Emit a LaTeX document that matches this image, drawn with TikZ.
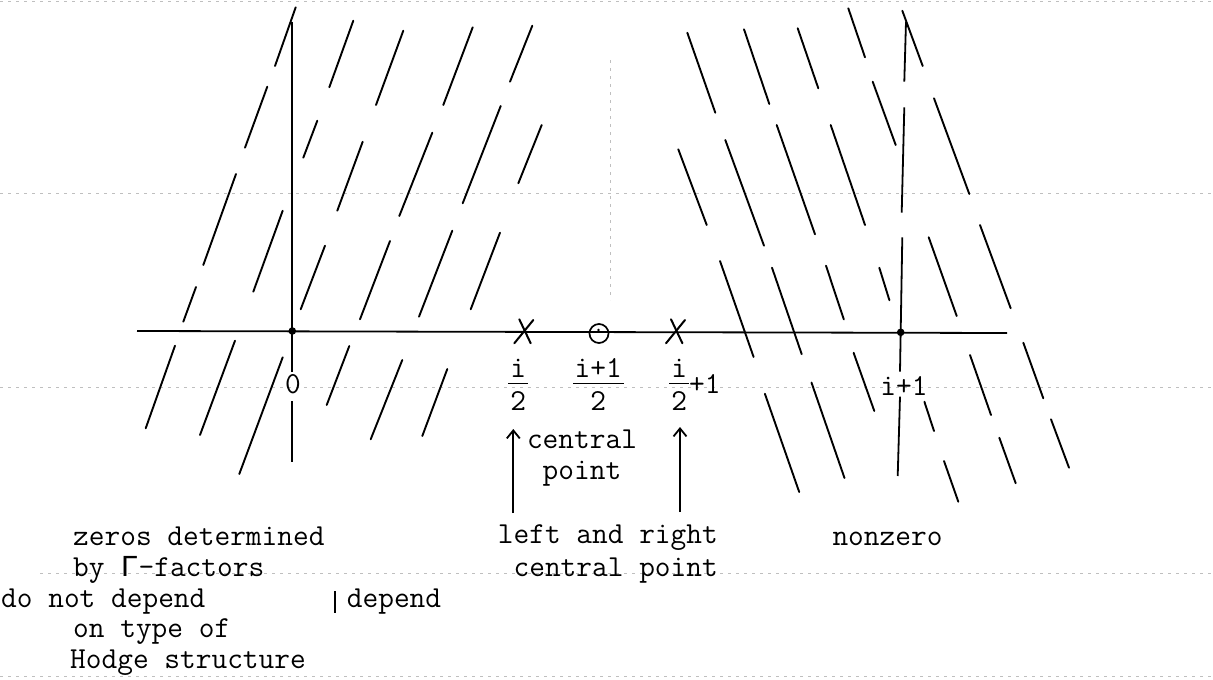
\documentclass[tikz,border=0pt]{standalone}
\usepackage{fontspec}
\newfontfamily\grk{Liberation Mono}
\usetikzlibrary{arrows.meta}
\begin{document}
\begin{tikzpicture}[x=1pt,y=-1pt,
  hatch/.style={line width=1.9pt, line cap=round},
  axisline/.style={line width=1.8pt},
  lbl/.style={font=\ttfamily\fontsize{30.5}{30.5}\selectfont, inner sep=0pt, anchor=base},
  lblw/.style={font=\ttfamily\fontsize{30.5}{30.5}\selectfont, inner sep=0pt, anchor=base west},
  lble/.style={font=\ttfamily\fontsize{30.5}{30.5}\selectfont, inner sep=0pt, anchor=base east},
  faint/.style={black!25, line width=0.6pt, dash pattern=on 3pt off 5pt},
  upar/.style={line width=1.9pt, -{Straight Barb[length=8pt,width=13pt,line width=1.8pt]}},
  xmark/.style={line width=2pt, line cap=round},
  fbar/.style={line width=1.5pt}
]
\useasboundingbox (0,0) rectangle (1213,680);
% faint ruled background lines
\draw[faint] (0,1.5) -- (1213,1.5);
\draw[faint] (0,193) -- (1213,193);
\draw[faint] (0,387) -- (1213,387);
\draw[faint] (40,573) -- (1213,573);
\draw[faint] (0,676) -- (1213,676);
\draw[faint] (610,60) -- (610,300);

% axes
\coordinate (hl) at (137,331);
\coordinate (hr) at (1007,333);
\draw[axisline] (hl) -- (hr);
\coordinate (v0t) at (292.3,21.7);
\coordinate (v0a) at (292.3,372);
\coordinate (v0b) at (292.3,401);
\coordinate (v0e) at (292.3,461.7);
\draw[axisline] (v0t) -- (v0a);
\draw[axisline] (v0b) -- (v0e);
\coordinate (v1a) at (906,21.7);
\coordinate (v1b) at (904.3,81.7);
\coordinate (v1c) at (904.3,107.3);
\coordinate (v1d) at (901.7,212.7);
\coordinate (v1e) at (902.3,237.3);
\coordinate (v1f) at (900,371.7);
\coordinate (v1g) at (900,396.7);
\coordinate (v1h) at (897.7,476);
\draw[axisline] (v1a) -- (v1b);
\draw[axisline] (v1c) -- (v1d);
\draw[axisline] (v1e) -- (v1f);
\draw[axisline] (v1g) -- (v1h);
\fill (292.3,331) circle (3.8pt);
\fill (900.7,332.3) circle (3.8pt);

% left hatching "/"
\foreach \a/\b/\c/\d in {
 295.7/7.3/275/66, 267.3/86.7/245/147.7, 236/174/203.3/265, 196/287/183.3/321.7,
 353.3/20.7/329.3/87.3, 317.3/120.7/303.3/157.7, 282.7/210.7/253.3/291.7,
 403.3/30.7/376/105, 362.7/141.7/337.3/210.7, 325/245.7/300.7/309.3,
 472.7/27.3/443.3/105, 432.3/132.7/399.3/216, 390/241/360/319.3,
 532.3/25.7/510/81.7, 500.7/106/462.7/203.3, 452.3/230.7/419/316.7,
 541.7/125/518.3/183.3, 500/232.7/470.7/309.3,
 175/345.7/145.7/428.3, 235/340.7/200/435, 282.7/357.3/239.3/474,
 349.3/346/326.7/405, 402.3/360/370.7/439.3, 447.3/369/422.3/436}
 \draw[hatch] (\a,\b) -- (\c,\d);

% right hatching "\"
\foreach \a/\b/\c/\d in {
 687.3/32.7/715.3/112.7, 744/29.3/769.3/104, 797.7/28.3/818.3/88.3,
 848.3/8.3/865/57.3, 902.3/10.7/922.7/66, 872.7/81.7/895.7/145,
 934/98.3/969.3/194, 678.3/149.3/706.7/225, 725.3/140/764/245.7,
 776.7/125/815/234.3, 830.7/125/865/225, 720/261/753.6/357,
 772/267.7/801.7/354.2, 826/265.7/843.8/319.4, 879.3/267.7/889.4/300.2,
 928.7/237.3/956.7/316, 980/225/1010.7/308.3,
 853.6/352.8/874.3/411, 764.9/393.8/799.2/492, 811.5/382.6/844.5/478,
 924.4/401.7/934/431, 944/461/958.3/501.7, 970/355/991/415,
 999.3/437.7/1015.7/483.3, 1023.3/342.7/1043.3/398.3, 1051/419.3/1069/467.7}
 \draw[hatch] (\a,\b) -- (\c,\d);

% marks on the axis
\draw[xmark] (519.3,319.3) -- (530.7,343.3);
\draw[xmark] (533.3,320) -- (514.3,343.3);
\draw[xmark] (671,319.3) -- (682.4,343.3);
\draw[xmark] (685,320) -- (666,343.3);
\draw[line width=1.7pt] (599,333.5) ellipse [x radius=9.5, y radius=9.5];
\fill (598.5,330) circle (1.3pt);

% axis labels
\node[lbl] (zero) at (293,393) {0};
\node[lbl] (ip1) at (904,395) {i+1};
\node[lbl] (f1n) at (518.3,377) {i};
\draw[fbar] (508.3,383.3) -- (528.3,383.3);
\node[lbl] (f1d) at (518.3,410) {2};
\node[lbl] (f2n) at (598.3,377) {i+1};
\draw[fbar] (573,383.3) -- (624,383.3);
\node[lbl] (f2d) at (598.3,410) {2};
\node[lbl] (f3n) at (679.3,377) {i};
\draw[fbar] (669.3,383.3) -- (689.3,383.3);
\node[lbl] (f3d) at (679.3,410) {2};
\node[lblw] (f3p) at (689,393) {+1};

% central point
\node[lbl] (cen1) at (582,448) {central};
\node[lbl] (cen2) at (582,479) {point};
\coordinate (a1s) at (513.3,513);
\coordinate (a1e) at (513.3,429);
\draw[upar] (a1s) -- (a1e);
\coordinate (a2s) at (680,512);
\coordinate (a2e) at (680,427);
\draw[upar] (a2s) -- (a2e);
\node[lble] (lr1) at (718,543) {left and right};
\node[lble] (lr2) at (718,576) {central point};
\node[lbl] (nz) at (887.5,545) {nonzero};

% bottom-left text
\node[lblw] (t1) at (73,545) {zeros determined};
\node[lblw] (t2) at (73,576) {by {\grk Γ}-factors};
\node[lblw] (t3) at (1,607) {do not depend};
\draw[line width=2.8pt] (335,591) -- (335,613);
\node[lblw] (t4) at (346.7,607) {depend};
\node[lblw] (t5) at (73,637) {on type of};
\node[lblw] (t6) at (70,668) {Hodge structure};
\end{tikzpicture}
\end{document}
